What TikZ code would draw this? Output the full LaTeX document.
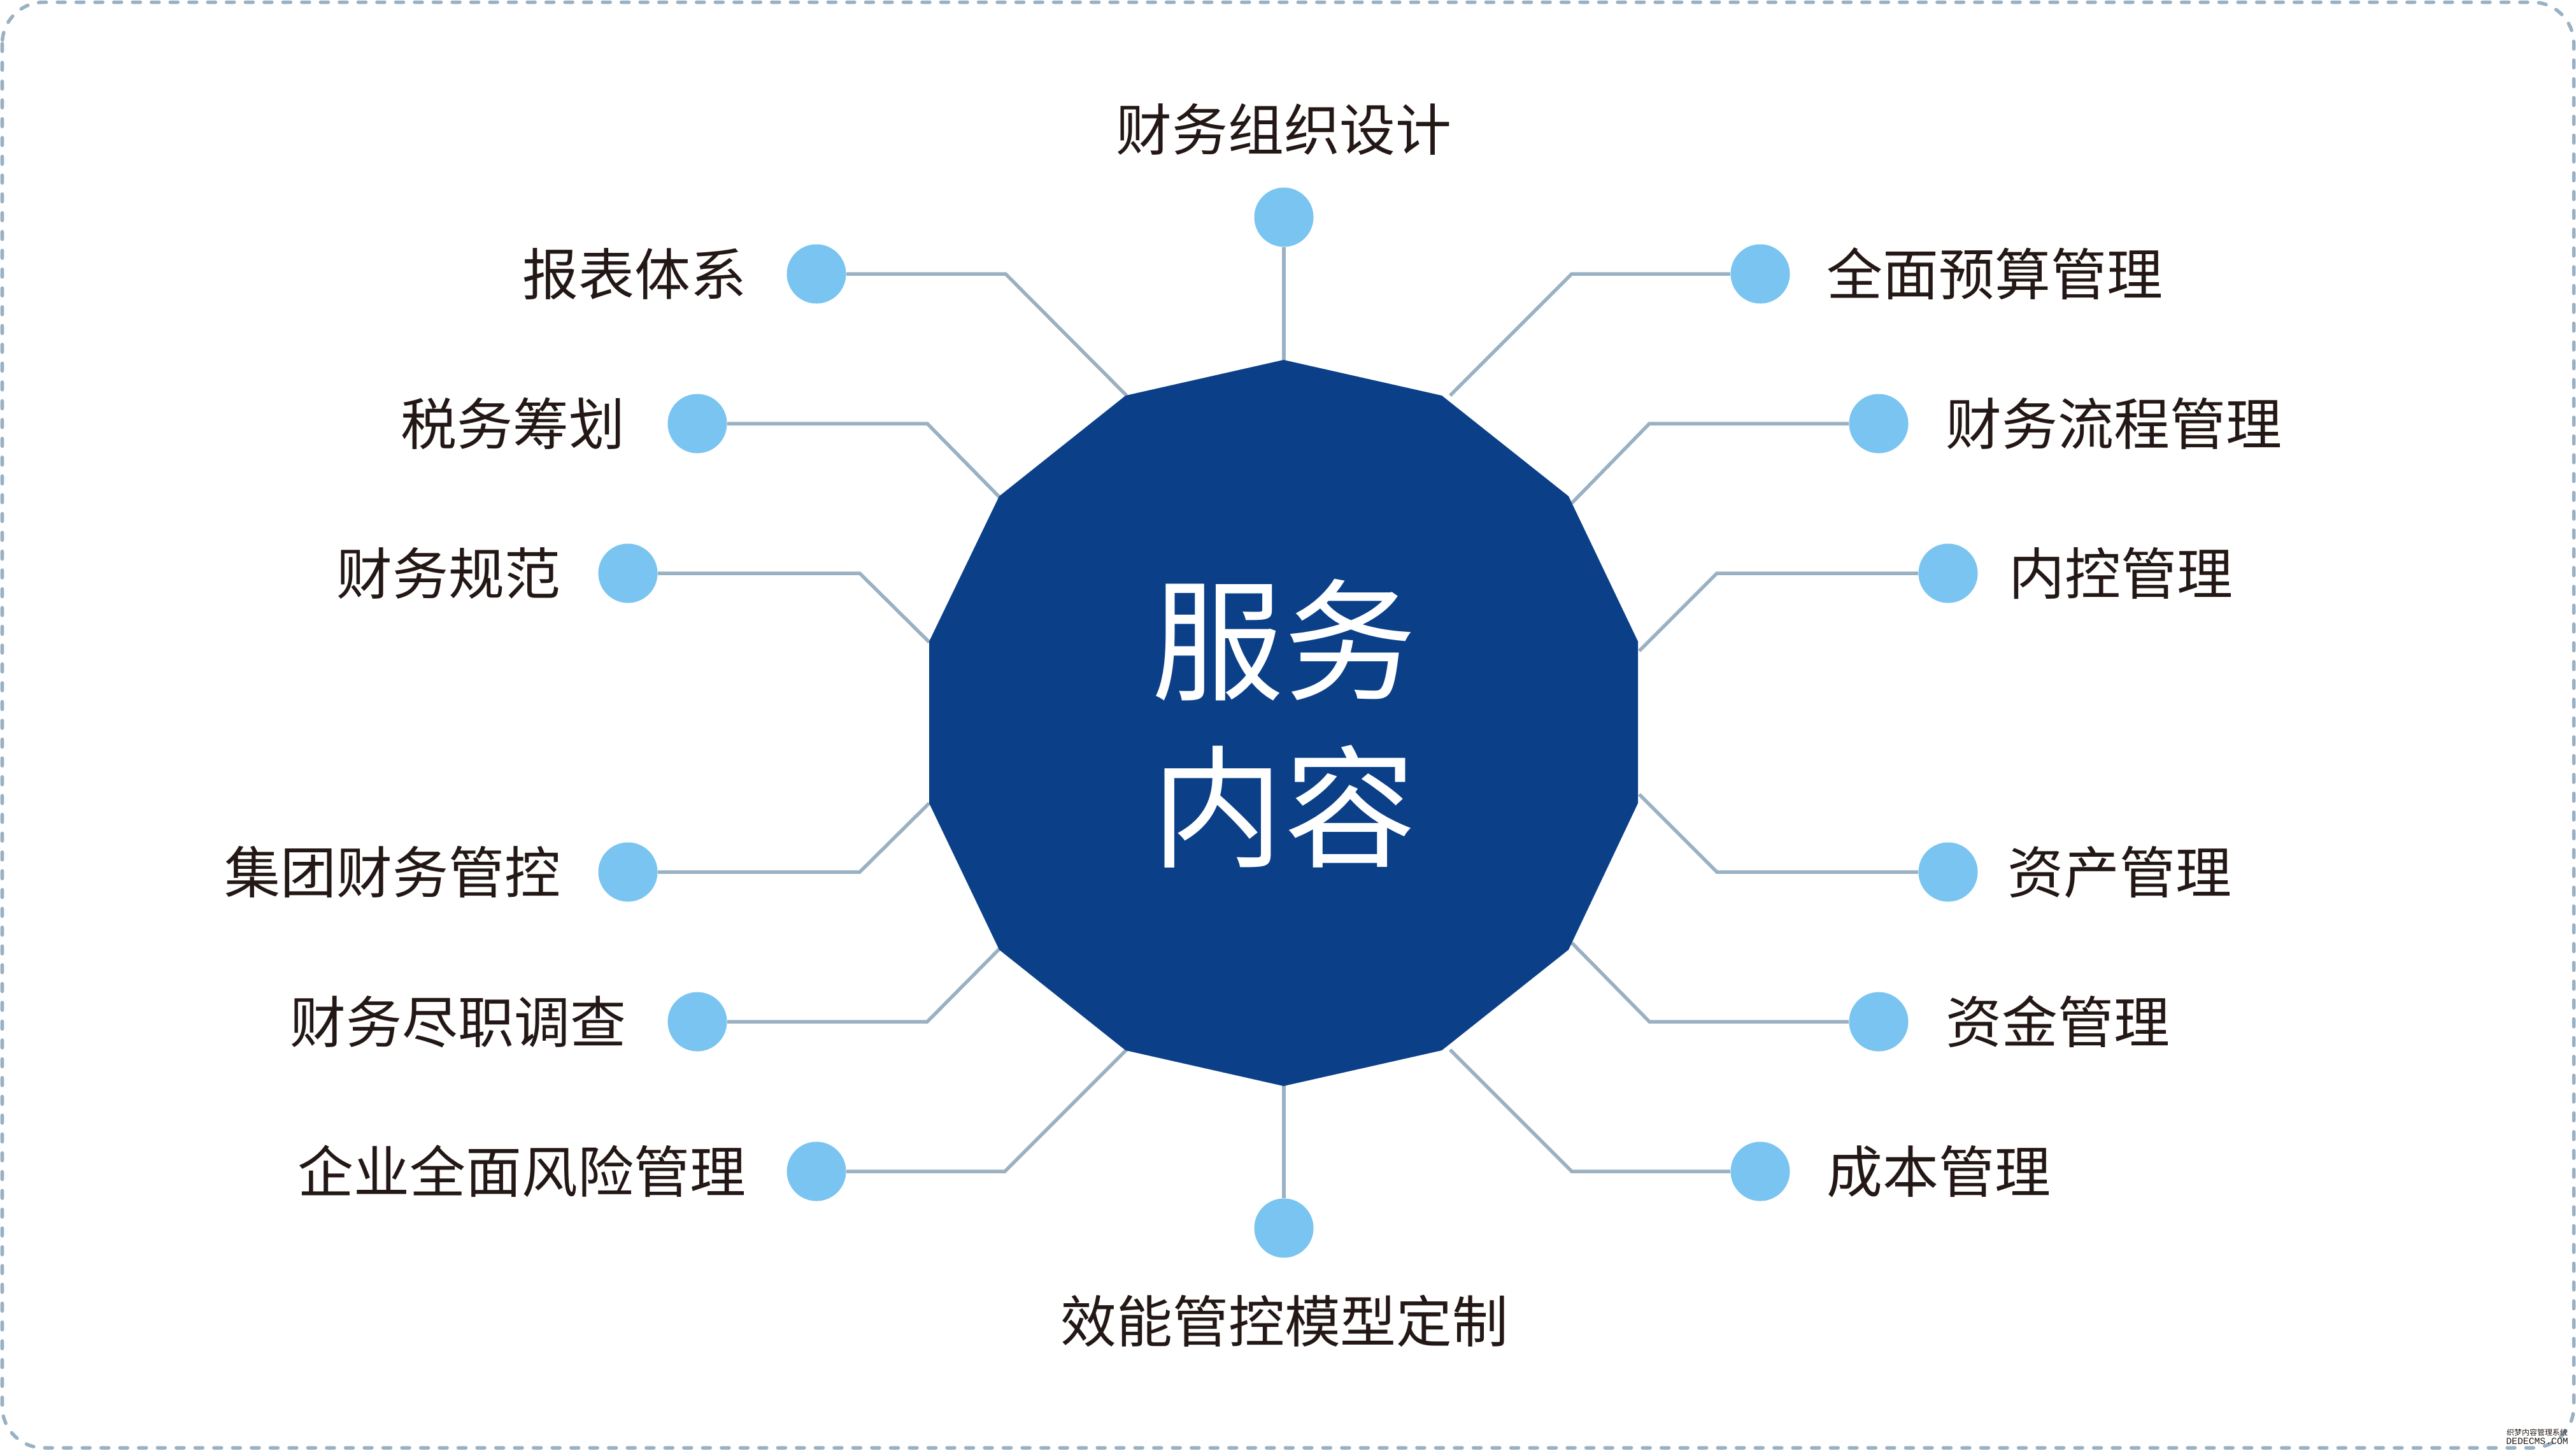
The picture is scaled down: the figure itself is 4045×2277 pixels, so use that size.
\documentclass[tikz,border=0pt]{standalone}
\usepackage{fontspec}
\usepackage{xcolor}
\usetikzlibrary{positioning}
\setmainfont{Noto Sans CJK SC}
\setmonofont{Liberation Mono}
\definecolor{navy}{HTML}{0B4088}
\definecolor{sky}{HTML}{79C4F0}
\definecolor{steel}{HTML}{9AB1C3}
\definecolor{ink}{HTML}{231815}
\tikzset{
    dot/.style={circle,fill=sky,inner sep=0pt,minimum size=0.93cm},
    link/.style={draw=steel,line width=0.055cm},
    lbl/.style={text=ink,inner sep=0pt,font=\fontsize{25}{30}\selectfont},
    frame/.style={draw=steel,line width=0.055cm,line cap=round,dash pattern=on 0.12cm off 0.175cm,rounded corners=0.65cm}
}

\begin{document}
\begin{tikzpicture}[x=0.01cm,y=-0.01cm]
        \useasboundingbox (0,0) rectangle (4045,2277);
        \draw[frame] (3.5,3.5) rectangle (4041.5,2273);

        % dots
        \node[dot] (dotTop) at (2016,341) {};
        \node[dot] (dotReport) at (1282,430) {};
        \node[dot] (dotTax) at (1095,665) {};
        \node[dot] (dotNorm) at (986,900) {};
        \node[dot] (dotGroup) at (986,1369) {};
        \node[dot] (dotDue) at (1095,1604) {};
        \node[dot] (dotRisk) at (1282,1839) {};
        \node[dot] (dotBottom) at (2016,1928) {};
        \node[dot] (dotBudget) at (2764,430) {};
        \node[dot] (dotFlow) at (2950,665) {};
        \node[dot] (dotCtrl) at (3059,900) {};
        \node[dot] (dotAsset) at (3059,1369) {};
        \node[dot] (dotFund) at (2950,1604) {};
        \node[dot] (dotCost) at (2764,1839) {};

        % labels
        \node[lbl,anchor=center] (txtTop) at (2016,203) {财务组织设计};
        \node[lbl,anchor=east] (txtReport) at (1173,430) {报表体系};
        \node[lbl,anchor=east] (txtTax) at (982,665) {税务筹划};
        \node[lbl,anchor=east] (txtNorm) at (881,900) {财务规范};
        \node[lbl,anchor=east] (txtGroup) at (881,1369) {集团财务管控};
        \node[lbl,anchor=east] (txtDue) at (984,1604) {财务尽职调查};
        \node[lbl,anchor=east] (txtRisk) at (1172,1839) {企业全面风险管理};
        \node[lbl,anchor=center] (txtBottom) at (2017,2074) {效能管控模型定制};
        \node[lbl,anchor=west] (txtBudget) at (2868,430) {全面预算管理};
        \node[lbl,anchor=west] (txtFlow) at (3055,665) {财务流程管理};
        \node[lbl,anchor=west] (txtCtrl) at (3154,900) {内控管理};
        \node[lbl,anchor=west] (txtAsset) at (3152,1369) {资产管理};
        \node[lbl,anchor=west] (txtFund) at (3055,1604) {资金管理};
        \node[lbl,anchor=west] (txtCost) at (2868,1839) {成本管理};

        % bends and ends of the connectors
        \coordinate (bendReport) at (1579,430);
        \coordinate (endReport) at (1769,621);
        \coordinate (bendTax) at (1456,665);
        \coordinate (endTax) at (1569,780);
        \coordinate (bendNorm) at (1350,900);
        \coordinate (endNorm) at (1459,1008);
        \coordinate (bendGroup) at (1350,1369);
        \coordinate (endGroup) at (1459,1261);
        \coordinate (bendDue) at (1456,1604);
        \coordinate (endDue) at (1569,1490);
        \coordinate (bendRisk) at (1578,1839);
        \coordinate (endRisk) at (1769,1648);
        \coordinate (bendBudget) at (2468,430);
        \coordinate (endBudget) at (2277,621);
        \coordinate (bendFlow) at (2590,665);
        \coordinate (endFlow) at (2468,790);
        \coordinate (bendCtrl) at (2696,900);
        \coordinate (endCtrl) at (2574,1022);
        \coordinate (bendAsset) at (2696,1369);
        \coordinate (endAsset) at (2574,1247);
        \coordinate (bendFund) at (2590,1604);
        \coordinate (endFund) at (2468,1480);
        \coordinate (bendCost) at (2468,1839);
        \coordinate (endCost) at (2277,1648);
        \coordinate (endTop) at (2016,566);
        \coordinate (endBottom) at (2016,1704);

        % connectors
        \draw[link] (dotTop) -- (endTop);
        \draw[link] (dotBottom) -- (endBottom);
        \draw[link] (dotReport) -- (bendReport) -- (endReport);
        \draw[link] (dotTax) -- (bendTax) -- (endTax);
        \draw[link] (dotNorm) -- (bendNorm) -- (endNorm);
        \draw[link] (dotGroup) -- (bendGroup) -- (endGroup);
        \draw[link] (dotDue) -- (bendDue) -- (endDue);
        \draw[link] (dotRisk) -- (bendRisk) -- (endRisk);
        \draw[link] (dotBudget) -- (bendBudget) -- (endBudget);
        \draw[link] (dotFlow) -- (bendFlow) -- (endFlow);
        \draw[link] (dotCtrl) -- (bendCtrl) -- (endCtrl);
        \draw[link] (dotAsset) -- (bendAsset) -- (endAsset);
        \draw[link] (dotFund) -- (bendFund) -- (endFund);
        \draw[link] (dotCost) -- (bendCost) -- (endCost);

        % centre
        \fill[navy] (2015.5,565)
            -- (2264,621)
            -- (2463,779)
            -- (2572,1007)
            -- (2572,1261)
            -- (2463,1491)
            -- (2264,1649)
            -- (2015.5,1705)
            -- (1767.5,1649)
            -- (1569,1491)
            -- (1459,1261)
            -- (1459,1007)
            -- (1569,779)
            -- (1767.5,621)
            -- cycle;
        \node[text=white,inner sep=0pt,align=center,font=\fontsize{59}{74.5}\selectfont] (title) at (2016,1136) {服务\\内容};

        % corner mark
        \node[text=ink,inner sep=0pt,font=\fontsize{3.4}{4}\selectfont] (markA) at (3984,2249) {织梦内容管理系统};
        \node[text=ink,inner sep=0pt,font=\fontsize{4.2}{5}\selectfont\ttfamily,below=0.02cm of markA] (markB) {DEDECMS.COM};
    \end{tikzpicture}
\end{document}
